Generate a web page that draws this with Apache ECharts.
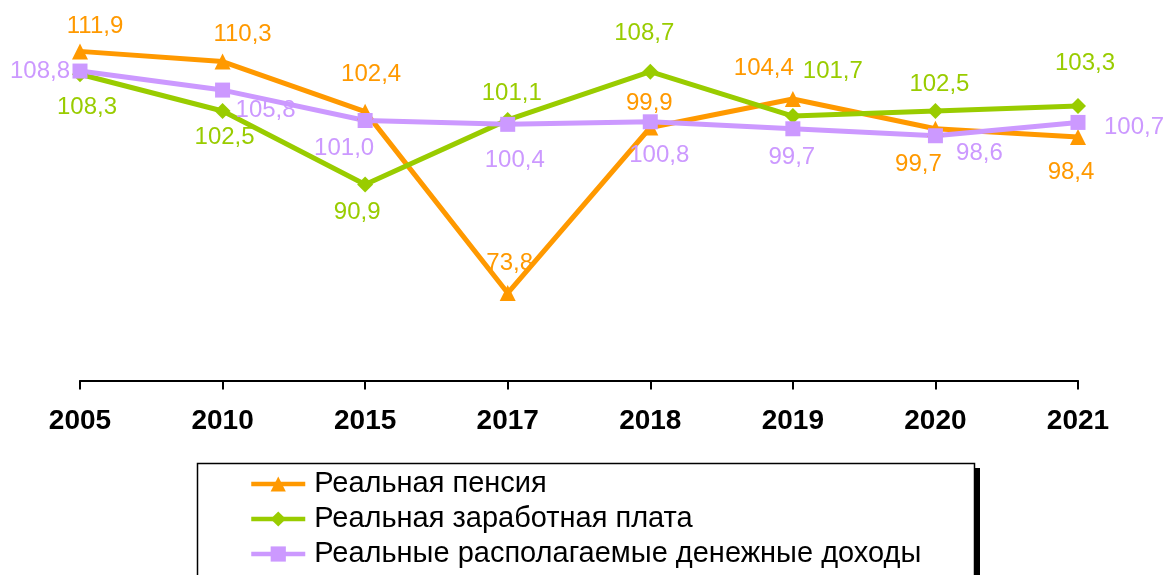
<!DOCTYPE html>
<html>
<head>
<meta charset="utf-8">
<script src="https://cdn.jsdelivr.net/npm/echarts@6/dist/echarts.min.js"></script>
<style>
  html, body { margin: 0; padding: 0; background: #fff; }
  #chart { width: 1166px; height: 575px; }
</style>
</head>
<body>
<div id="chart"></div>
<script>
// данные
var years = ['2005', '2010', '2015', '2017', '2018', '2019', '2020', '2021']
var pension = [111.9, 110.3, 102.4, 73.8, 99.9, 104.4, 99.7, 98.4]
var wage = [108.3, 102.5, 90.9, 101.1, 108.7, 101.7, 102.5, 103.3]
var income = [108.8, 105.8, 101.0, 100.4, 100.8, 99.7, 98.6, 100.7]

// сдвиги подписей относительно точки
var pensionOffsets = [[15, -25], [20, -27], [6, -37], [2, -30], [-1, -24], [-29, -31], [-17, 36], [-7, 35]]
var wageOffsets = [[7, 33], [2, 26], [-8, 28], [4, -27], [-6, -38], [40, -45], [4, -27], [7, -43]]
var incomeOffsets = [[-40, 0], [43, 20], [-21, 28], [7, 36], [9, 34], [-1, 29], [44, 18], [56, 5]]

var FONT = '"Liberation Sans", Arial, sans-serif'

function fmt(v) {
  return v.toFixed(1).replace('.', ',')
}

function buildData(values, offsets) {
  return values.map(function(v, i) {
    return { value: v, label: { offset: offsets[i] } }
  })
}

function makeSeries(name, values, offsets, color, symbol, size) {
  return {
    name: name,
    type: 'line',
    data: buildData(values, offsets),
    symbol: symbol,
    symbolSize: size,
    showAllSymbol: true,
    lineStyle: { color: color, width: 5 },
    itemStyle: { color: color },
    label: {
      show: true,
      position: 'inside',
      color: color,
      fontSize: 24,
      fontFamily: FONT,
      formatter: function(p) { return fmt(p.value) }
    },
    emphasis: { disabled: true },
    animation: false
  }
}

var chart = echarts.init(document.getElementById('chart'))
chart.setOption({
  grid: {
    left: 80,
    right: 88,
    top: 0,
    height: 380.6
  },
  xAxis: {
    type: 'category',
    data: years,
    boundaryGap: false,
    axisLine: { lineStyle: { color: '#000', width: 2 } },
    axisTick: { length: 9, lineStyle: { color: '#000', width: 2 } },
    axisLabel: {
      color: '#000',
      fontSize: 28,
      fontWeight: 'bold',
      fontFamily: FONT,
      margin: 27
    }
  },
  yAxis: {
    type: 'value',
    min: 60,
    max: 120,
    show: false,
    splitLine: { show: false }
  },
  // рамка легенды с тенью
  graphic: [
    {
      type: 'rect',
      shape: { x: 202, y: 468, width: 778, height: 200 },
      style: { fill: '#000' },
      silent: true
    },
    {
      type: 'rect',
      shape: { x: 197.5, y: 463.5, width: 777, height: 200 },
      style: { fill: '#fff', stroke: '#000', lineWidth: 1.5 },
      silent: true
    }
  ],
  legend: {
    orient: 'vertical',
    left: 249,
    top: 469.5,
    itemWidth: 54,
    itemHeight: 19,
    itemGap: 6,
    padding: 0,
    lineStyle: { width: 4.5 },
    textStyle: {
      color: '#000',
      fontSize: 29,
      fontFamily: FONT,
      padding: [0, 0, 0, 4]
    },
    data: ['Реальная пенсия', 'Реальная заработная плата', 'Реальные располагаемые денежные доходы']
  },
  series: [
    makeSeries('Реальная пенсия', pension, pensionOffsets, '#FF9900', 'triangle', 16),
    makeSeries('Реальная заработная плата', wage, wageOffsets, '#99CC00', 'diamond', 16),
    makeSeries('Реальные располагаемые денежные доходы', income, incomeOffsets, '#CC99FF', 'rect', 15)
  ]
})
</script>
</body>
</html>
